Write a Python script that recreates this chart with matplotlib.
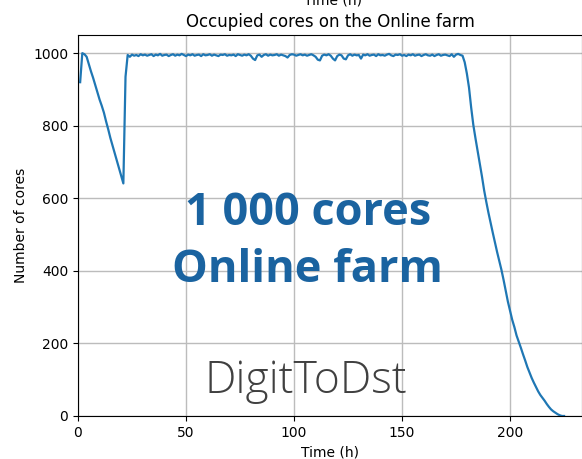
import numpy as np
import matplotlib
matplotlib.use('Agg')
import matplotlib.pyplot as plt

# hourly occupancy of the Online farm (cores)
start_cores = [920, 1000, 997, 990, 970, 950, 932, 912, 892, 872, 855, 836,
               812, 790, 766, 745, 724, 703, 682, 662, 641, 935, 995]
plateau_cores = [990, 996, 993, 995, 992, 997, 994, 996, 993, 995, 997, 992, 996, 994, 998, 993, 995,
                 996, 992, 995, 997, 993, 996, 994, 998, 995, 992, 996, 994, 997, 993, 995, 996, 992, 997, 994, 995,
                 997, 993, 996, 994, 992, 996, 995, 997, 993, 995, 994, 996, 992, 997, 995, 993, 996, 994, 997, 993,
                 985, 981, 994, 996, 990, 995, 997, 993, 996, 994, 995, 997, 993, 996, 994, 992, 988, 995, 997, 996,
                 993, 995, 997, 994, 996, 993, 995, 997, 994, 990, 982, 980, 993, 996, 994, 997, 993, 985, 980, 992,
                 996, 994, 985, 983, 994, 997, 993, 996, 994, 995, 985, 996, 994, 997, 993, 995, 996, 992, 997, 994,
                 995, 993, 996, 998, 994, 992, 996, 995, 997, 993, 995, 992, 996, 994, 997, 993, 995, 996, 992, 995,
                 997, 994, 993, 996, 992, 995, 997, 993, 995, 996, 994, 992, 997, 990, 996, 998, 995]
end_cores = [993, 975, 944, 905, 850, 802, 765, 730, 696, 660, 622, 590, 560, 532, 505, 478,
             452, 427, 403, 375, 345, 315, 290, 265, 245, 222, 205, 188, 170, 153, 135, 120,
             105, 92, 80, 68, 58, 50, 42, 33, 25, 18, 13, 9, 5, 2, 0, 0]

cores = np.array(start_cores + plateau_cores + end_cores)
hours = np.arange(1, len(cores) + 1)

fig = plt.figure(figsize=(5.82, 4.59), dpi=100)
ax = fig.add_axes([0.134, 0.0937, 0.866, 0.830])

ax.plot(hours, cores, color='#1f77b4', linewidth=1.6, zorder=2)
ax.set_xlim(0, 233.3)
ax.set_ylim(0, 1050)
ax.set_xticks([0, 50, 100, 150, 200])
ax.set_yticks([0, 200, 400, 600, 800, 1000])
ax.grid(True, color='#bcbcbc', linewidth=1.0, zorder=0)
ax.set_axisbelow(True)

ax.set_title('Occupied cores on the Online farm', fontsize=12)
ax.set_xlabel('Time (h)')
ax.set_ylabel('Number of cores')
fig.text(0.573, 1 - 4 / 459, 'Time (h)', ha='center', va='baseline', fontsize=10)

# big labels drawn on top of the plot
big = dict(ha='center', va='baseline', fontsize=32.5, fontweight='bold',
           family=['Open Sans', 'DejaVu Sans'], color='#1a63a0', zorder=3)
ax.text(106.4, 526, '1 000 cores', **big)
ax.text(106.0, 370, 'Online farm', **big)
ax.text(105.6, 62, 'DigitToDst', ha='center', va='baseline',
        fontsize=32, fontweight='light', family=['Open Sans', 'DejaVu Sans'],
        color='#404040', zorder=3)

fig.savefig('out.png', dpi=100)
